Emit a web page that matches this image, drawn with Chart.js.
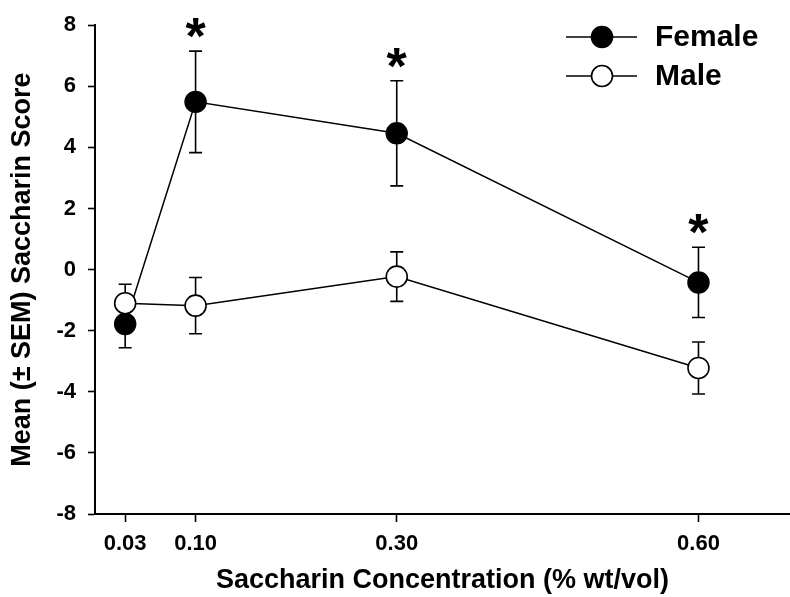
<!DOCTYPE html>
<html>
<head>
<meta charset="utf-8">
<script src="https://cdn.jsdelivr.net/npm/chart.js@4"></script>
<style>
  html, body { margin: 0; padding: 0; background: #fff; }
</style>
</head>
<body>
<canvas id="chart" width="790" height="597"></canvas>
<script>
// data
const concentrations = [0.03, 0.10, 0.30, 0.60];
const femaleMean = [-1.78, 5.49, 4.46, -0.42];
const femaleSem = [0.78, 1.66, 1.72, 1.15];
const maleMean = [-1.10, -1.18, -0.23, -3.22];
const maleSem = [0.62, 0.92, 0.81, 0.85];
const femaleSig = [false, true, true, true];
const yTickValues = [-8, -6, -4, -2, 0, 2, 4, 6, 8];

const FONT = "Arial, 'Liberation Sans', sans-serif";

function toPoints(xs, ys) {
  return xs.map((x, i) => ({ x: x, y: ys[i] }));
}

// vertical error bars with caps, drawn under the markers
const errorBars = {
  id: "errorBars",
  beforeDatasetsDraw(chart) {
    const c = chart.ctx;
    const yScale = chart.scales.y;
    c.save();
    c.strokeStyle = "#000";
    c.lineWidth = 1.6;
    chart.data.datasets.forEach((ds, di) => {
      const meta = chart.getDatasetMeta(di);
      meta.data.forEach((pt, i) => {
        const m = ds.data[i].y;
        const s = ds.sem[i];
        const top = yScale.getPixelForValue(m + s);
        const bot = yScale.getPixelForValue(m - s);
        c.beginPath();
        c.moveTo(pt.x, top);
        c.lineTo(pt.x, bot);
        c.moveTo(pt.x - 6.5, top);
        c.lineTo(pt.x + 6.5, top);
        c.moveTo(pt.x - 6.5, bot);
        c.lineTo(pt.x + 6.5, bot);
        c.stroke();
      });
    });
    c.restore();
  }
};

// asterisks over significant female points
const sigStars = {
  id: "sigStars",
  afterDatasetsDraw(chart) {
    const c = chart.ctx;
    const yScale = chart.scales.y;
    const meta = chart.getDatasetMeta(0);
    c.save();
    c.fillStyle = "#000";
    c.font = "bold 52px " + FONT;
    c.textAlign = "center";
    c.textBaseline = "alphabetic";
    meta.data.forEach((pt, i) => {
      if (!femaleSig[i]) return;
      const top = yScale.getPixelForValue(femaleMean[i] + femaleSem[i]);
      c.fillText("*", pt.x, top + 3);
    });
    c.restore();
  }
};

// legend: line with marker, label on the right
const lineLegend = {
  id: "lineLegend",
  afterDraw(chart) {
    const c = chart.ctx;
    const rows = [37, 76];
    c.save();
    chart.data.datasets.forEach((ds, i) => {
      const y = rows[i];
      c.strokeStyle = "#000";
      c.lineWidth = 1.6;
      c.beginPath();
      c.moveTo(566, y);
      c.lineTo(637, y);
      c.stroke();
      c.beginPath();
      c.arc(602, y, 10.5, 0, Math.PI * 2);
      c.fillStyle = ds.pointBackgroundColor;
      c.fill();
      c.stroke();
      c.fillStyle = "#000";
      c.font = "bold 30px " + FONT;
      c.textAlign = "left";
      c.textBaseline = "middle";
      c.fillText(ds.label, 655, y + 1);
    });
    c.restore();
  }
};

new Chart(document.getElementById("chart"), {
  type: "scatter",
  data: {
    datasets: [
      {
        label: "Female",
        data: toPoints(concentrations, femaleMean),
        sem: femaleSem,
        showLine: true,
        borderColor: "#000",
        borderWidth: 1.5,
        pointRadius: 10.5,
        pointBackgroundColor: "#000",
        pointBorderColor: "#000",
        pointBorderWidth: 1.5,
        order: 2
      },
      {
        label: "Male",
        data: toPoints(concentrations, maleMean),
        sem: maleSem,
        showLine: true,
        borderColor: "#000",
        borderWidth: 1.5,
        pointRadius: 10.5,
        pointBackgroundColor: "#fff",
        pointBorderColor: "#000",
        pointBorderWidth: 1.6,
        order: 1
      }
    ]
  },
  options: {
    responsive: false,
    animation: false,
    devicePixelRatio: 1,
    layout: { autoPadding: false, padding: { top: 21, right: 0, left: 0, bottom: 0 } },
    plugins: {
      legend: { display: false },
      tooltip: { enabled: false }
    },
    scales: {
      x: {
        type: "linear",
        min: 0,
        max: 0.691,
        afterBuildTicks: (axis) => {
          axis.ticks = concentrations.map((v) => ({ value: v }));
        },
        afterFit: (axis) => {
          axis.height = 83;
          axis.paddingLeft = 0;
          axis.paddingRight = 0;
        },
        ticks: {
          color: "#000",
          padding: 9,
          font: { family: FONT, size: 22, weight: "bold" },
          callback: (v) => Number(v).toFixed(2),
          maxRotation: 0,
          autoSkip: false
        },
        grid: {
          drawOnChartArea: false,
          drawTicks: true,
          tickLength: 8,
          color: "#000",
          tickWidth: 1.6
        },
        border: { color: "#000", width: 2 },
        title: {
          display: true,
          text: "Saccharin Concentration (% wt/vol)",
          color: "#000",
          padding: { top: 0, bottom: 2.5 },
          font: { family: FONT, size: 27, weight: "bold", lineHeight: 1 }
        }
      },
      y: {
        min: -8,
        max: 8,
        afterBuildTicks: (axis) => {
          axis.ticks = yTickValues.map((v) => ({ value: v }));
        },
        afterFit: (axis) => { axis.width = 95; },
        ticks: {
          color: "#000",
          padding: 12,
          font: { family: FONT, size: 22, weight: "bold" }
        },
        grid: {
          drawOnChartArea: false,
          drawTicks: true,
          tickLength: 7,
          color: "#000",
          tickWidth: 1.6
        },
        border: { color: "#000", width: 2 },
        title: {
          display: true,
          text: "Mean (± SEM) Saccharin Score",
          color: "#000",
          padding: { top: 9.5, bottom: 0 },
          font: { family: FONT, size: 27, weight: "bold", lineHeight: 1 }
        }
      }
    }
  },
  plugins: [errorBars, sigStars, lineLegend]
});
</script>
</body>
</html>
